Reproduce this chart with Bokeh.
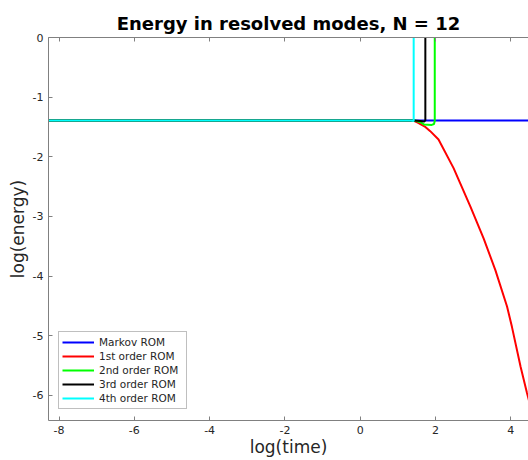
from bokeh.plotting import figure
from bokeh.models import Range1d, LinearAxis, FixedTicker, Legend, LegendItem, Title, CustomJSTickFormatter
from bokeh.embed import file_html
from bokeh.resources import INLINE

# ---- data ----
markov_x = [-8.3, 4.6]
markov_y = [-1.39, -1.39]

first_x = [-8.3, 1.40, 1.54, 1.73, 1.86, 2.08, 2.48, 2.66, 2.93, 3.28, 3.59, 3.90, 4.03, 4.26, 4.43, 4.55]
first_y = [-1.39, -1.39, -1.43, -1.50, -1.57, -1.71, -2.19, -2.45, -2.84, -3.37, -3.90, -4.51, -4.85, -5.52, -5.96, -6.25]

second_x = [-8.3, 1.45, 1.6, 1.7, 1.9, 1.96, 1.98, 1.98]
second_y = [-1.39, -1.39, -1.42, -1.46, -1.465, -1.45, -1.40, 0.5]

third_x = [-8.3, 1.42, 1.6, 1.70, 1.73, 1.73]
third_y = [-1.39, -1.39, -1.40, -1.41, -1.39, 0.5]

fourth_x = [-8.3, 1.35, 1.42, 1.42]
fourth_y = [-1.39, -1.39, -1.40, 0.5]

x_ticks = [-8, -6, -4, -2, 0, 2, 4]
y_ticks = [0, -1, -2, -3, -4, -5, -6]

series = [
    ("Markov ROM", markov_x, markov_y, "#0000ff"),
    ("1st order ROM", first_x, first_y, "#ff0000"),
    ("2nd order ROM", second_x, second_y, "#00ff00"),
    ("3rd order ROM", third_x, third_y, "#000000"),
    ("4th order ROM", fourth_x, fourth_y, "#00ffff"),
]

FONT = "DejaVu Sans"
AX_COL = "#808080"
TXT_COL = "#262626"

p = figure(width=528, height=460, output_backend="svg", toolbar_location=None,
           x_range=Range1d(-8.28, 4.47), y_range=Range1d(-6.42, 0),
           min_border_left=48, min_border_right=0, min_border_bottom=40, min_border_top=37)
p.background_fill_color = "white"
p.border_fill_color = "white"
p.grid.visible = False
p.outline_line_color = None

items = []
for name, xs, ys, col in series:
    r = p.line(xs, ys, line_color=col, line_width=2)
    items.append(LegendItem(label=name, renderers=[r]))

fmt = CustomJSTickFormatter(code="return tick.toString()")
for ax in (p.xaxis[0], p.yaxis[0]):
    ax.major_tick_in = 4
    ax.major_tick_out = 0
    ax.minor_tick_line_color = None
    ax.axis_line_color = AX_COL
    ax.major_tick_line_color = AX_COL
    ax.major_label_text_font = FONT
    ax.major_label_text_font_size = "11px"
    ax.major_label_text_color = TXT_COL
    ax.axis_label_text_font = FONT
    ax.axis_label_text_font_size = "17px"
    ax.axis_label_text_font_style = "normal"
    ax.axis_label_text_color = TXT_COL
    ax.formatter = fmt

p.xaxis[0].ticker = FixedTicker(ticks=x_ticks)
p.yaxis[0].ticker = FixedTicker(ticks=y_ticks)
p.xaxis[0].axis_label = "log(time)"
p.yaxis[0].axis_label = "log(energy)"
p.xaxis[0].major_label_standoff = 5
p.yaxis[0].major_label_standoff = 5
p.xaxis[0].axis_label_standoff = 0
p.yaxis[0].axis_label_standoff = 2

top = LinearAxis(ticker=FixedTicker(ticks=x_ticks),
                 formatter=CustomJSTickFormatter(code="return ''"))
top.major_tick_in = 4
top.major_tick_out = 0
top.minor_tick_line_color = None
top.axis_line_color = AX_COL
top.major_tick_line_color = AX_COL
top.major_label_text_font_size = "0px"
top.major_label_standoff = 0
p.add_layout(top, "above")

p.title = Title(text="Energy in resolved modes, N = 12", align="center",
                text_font=FONT, text_font_size="18px", text_font_style="bold",
                text_color="black", standoff=8)

legend = Legend(items=items, location=(10, 11))
legend.label_text_font = FONT
legend.label_text_font_size = "10.5px"
legend.label_text_color = TXT_COL
legend.glyph_width = 32
legend.glyph_height = 14
legend.label_height = 14
legend.label_width = 84
legend.label_standoff = 5
legend.spacing = 0
legend.padding = 3
legend.margin = 0
legend.border_line_color = AX_COL
legend.border_line_width = 1
legend.background_fill_color = "white"
legend.background_fill_alpha = 1.0
p.add_layout(legend, "center")

open("out.html", "w").write(file_html(p, INLINE))
